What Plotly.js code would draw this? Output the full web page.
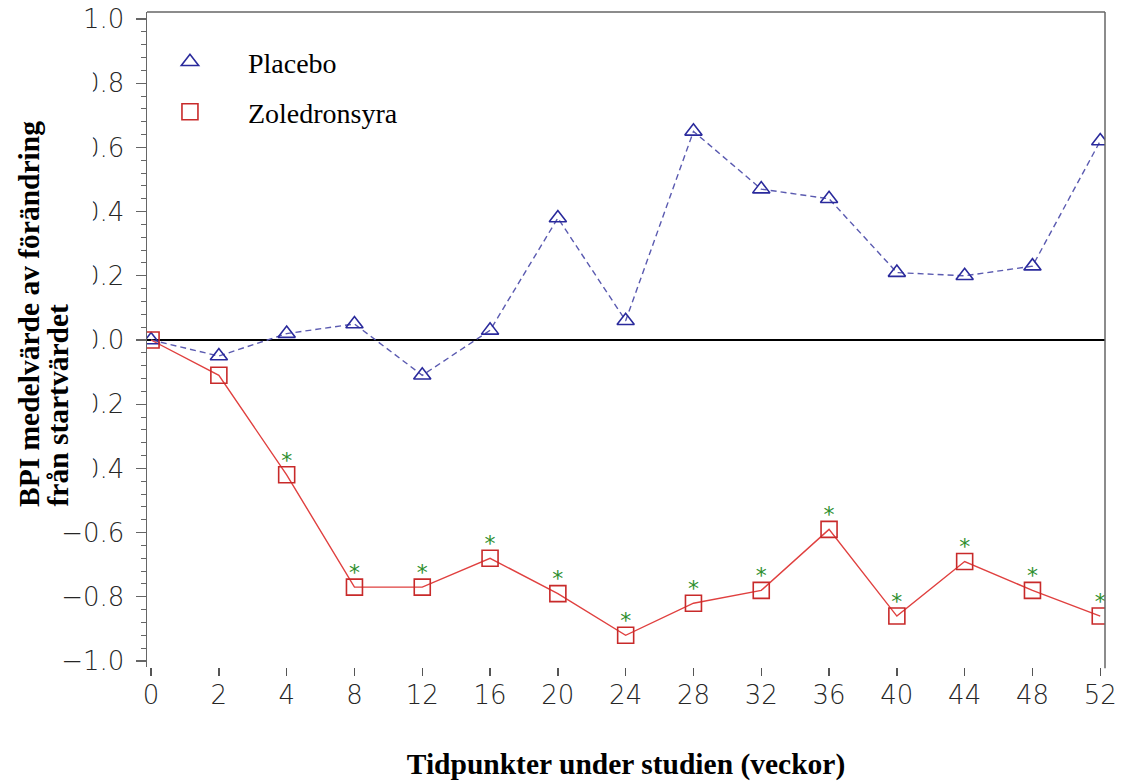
<!DOCTYPE html>
<html><head><meta charset="utf-8">
<script src="https://cdn.plot.ly/plotly-3.0.1.min.js"></script>
<style>html,body{margin:0;padding:0;background:#fff}#chart{width:1121px;height:784px}</style>
</head><body><div id="chart"></div>
<script>
const weeks = ['0','2','4','8','12','16','20','24','28','32','36','40','44','48','52'];
const placebo = [0.00,-0.05,0.02,0.05,-0.11,0.03,0.38,0.06,0.65,0.47,0.44,0.21,0.20,0.23,0.62];
const zoledronsyra = [0.00,-0.11,-0.42,-0.77,-0.77,-0.68,-0.79,-0.92,-0.82,-0.78,-0.59,-0.86,-0.69,-0.78,-0.86];
const significance = ['','','*','*','*','*','*','*','*','*','*','*','*','*','*'];
const seriesNames = ['Placebo','Zoledronsyra'];
const xTitle = 'Tidpunkter under studien (veckor)';
const yTitleLines = ['BPI medelvärde av förändring','från startvärdet'];

const tickFont = {family:'DejaVu Sans', size:26, color:'#262626', weight:300};
const serif = 'Liberation Serif, Times New Roman, serif';

const traces = [
  {x:weeks, y:placebo, type:'scatter', mode:'lines', showlegend:false, hoverinfo:'skip',
   line:{color:'#5a5ab0', width:1.4, dash:'6px,4px'}},
  {x:weeks, y:zoledronsyra, type:'scatter', mode:'lines', showlegend:false, hoverinfo:'skip',
   line:{color:'#e0403f', width:1.4}},
  {x:weeks, y:placebo, type:'scatter', mode:'markers', name:seriesNames[0], legend:'legend',
   marker:{symbol:'triangle-up-open', size:15, color:'#2a2a9c', line:{width:1.6, color:'#2a2a9c'}}},
  {x:weeks, y:zoledronsyra, type:'scatter', mode:'markers', name:seriesNames[1], legend:'legend2',
   marker:{symbol:'square-open', size:16, color:'#c82a2a', line:{width:1.6, color:'#c82a2a'}}},
  {x:weeks, y:zoledronsyra, type:'scatter', mode:'markers+text', text:significance, showlegend:false,
   marker:{size:1, opacity:0}, textposition:'top center',
   textfont:{family:'DejaVu Sans', size:22, color:'#2f8f2f'}, hoverinfo:'skip'}
];

const layout = {
  width:1121, height:784,
  paper_bgcolor:'#fff', plot_bgcolor:'#fff',
  margin:{l:147, r:16, t:12, b:117, autoexpand:false},
  xaxis:{type:'category', range:[-0.06,14.07], showline:false, showgrid:false, zeroline:false,
    ticks:'outside', ticklen:8, tickwidth:1.3, tickcolor:'#555', tickfont:tickFont, automargin:false,
    ticklabelstandoff:-3,
    title:{text:xTitle, font:{family:serif, size:29.5, weight:'bold', color:'#000'}, standoff:44}},
  yaxis:{range:[-1.0187,1.0218], tickmode:'linear', tick0:0, dtick:0.2, tickformat:'.1f',
    showline:true, linecolor:'#666', linewidth:1.5, ticks:'outside', ticklen:10, tickwidth:1.3, tickcolor:'#666',
    minor:{dtick:0.04, ticks:'outside', ticklen:5, tickwidth:1, tickcolor:'#666'},
    zeroline:true, zerolinecolor:'#000', zerolinewidth:1.3, showgrid:false,
    tickfont:tickFont, ticklabelstandoff:6, automargin:false},
  legend:{x:-0.0157, y:0.9236, xanchor:'left', yanchor:'middle', bgcolor:'rgba(0,0,0,0)', borderwidth:0,
    font:{family:serif, size:28, color:'#000'}, itemwidth:106},
  legend2:{x:-0.0157, y:0.8473, xanchor:'left', yanchor:'middle', bgcolor:'rgba(0,0,0,0)', borderwidth:0,
    font:{family:serif, size:28, color:'#000'}, itemwidth:106},
  shapes:[
    {type:'line', xref:'paper', yref:'paper', x0:0, x1:1, y0:1, y1:1, line:{color:'#666', width:1.5}},
    {type:'line', xref:'paper', yref:'paper', x0:1, x1:1, y0:-0.002, y1:1, line:{color:'#666', width:1.5}},
    {type:'rect', xref:'paper', yref:'paper', x0:-0.1534, x1:-0.0565, y0:0.2885, y1:0.9145,
     fillcolor:'#fff', line:{width:0}, layer:'above'}
  ],
  annotations:[
    {text:yTitleLines[0], xref:'paper', yref:'paper', x:0, y:0, xshift:-118, yshift:158,
     xanchor:'center', yanchor:'bottom', textangle:-90, showarrow:false,
     font:{family:serif, size:29.5, weight:'bold', color:'#000'}},
    {text:yTitleLines[1], xref:'paper', yref:'paper', x:0, y:0, xshift:-90, yshift:158,
     xanchor:'center', yanchor:'bottom', textangle:-90, showarrow:false,
     font:{family:serif, size:29.5, weight:'bold', color:'#000'}}
  ]
};

Plotly.newPlot('chart', traces, layout, {displayModeBar:false, staticPlot:true});
</script></body></html>
